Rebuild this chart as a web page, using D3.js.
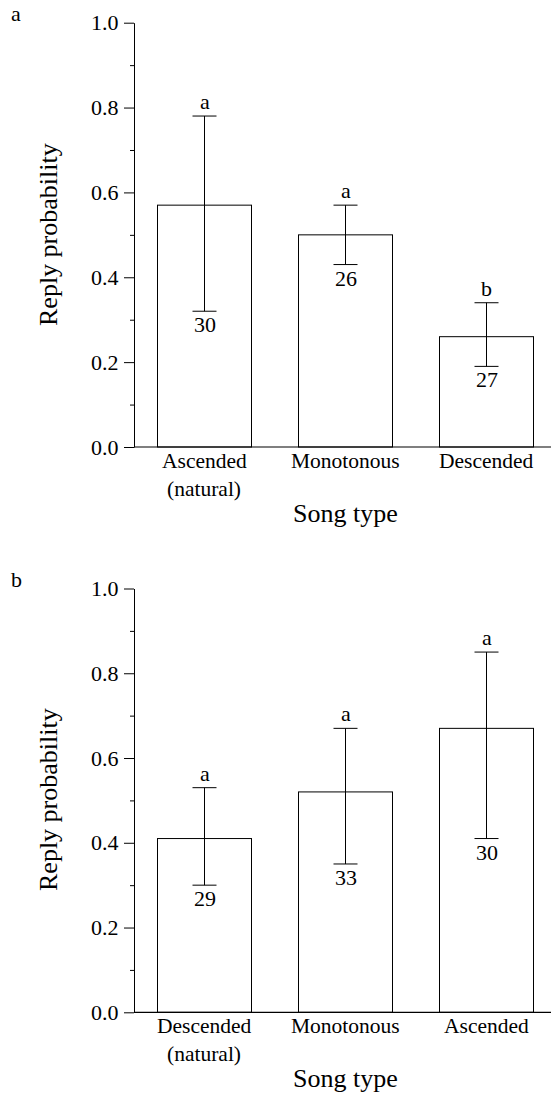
<!DOCTYPE html>
<html>
<head>
<meta charset="utf-8">
<script src="https://cdn.jsdelivr.net/npm/d3@7"></script>
<style>
    body { margin: 0; background: #fff; }
    svg { display: block; }
</style>
</head>
<body>
<div id="chart"></div>
<script>
// Panel a
var categoriesA = [["Ascended", "(natural)"], ["Monotonous"], ["Descended"]];
var valuesA = [0.57, 0.50, 0.26];
var upperA = [0.78, 0.57, 0.34];
var lowerA = [0.32, 0.43, 0.19];
var lettersA = ["a", "a", "b"];
var samplesA = ["30", "26", "27"];

// Panel b
var categoriesB = [["Descended", "(natural)"], ["Monotonous"], ["Ascended"]];
var valuesB = [0.41, 0.52, 0.67];
var upperB = [0.53, 0.67, 0.85];
var lowerB = [0.30, 0.35, 0.41];
var lettersB = ["a", "a", "a"];
var samplesB = ["29", "33", "30"];

var majorTicks = [0, 0.2, 0.4, 0.6, 0.8, 1.0];
var minorTicks = [0.1, 0.3, 0.5, 0.7, 0.9];

var width = 551,
    height = 1094;

var serif = 'Liberation Serif';

var svg = d3.select('#chart').append('svg')
    .attr('width', width)
    .attr('height', height);

// text in the figure font, left anchored; centred by measuring it
function label(g, size, str, x, y)
{
    var t = g.append('text')
        .attr('fill', '#000')
        .style('font-family', serif)
        .style('font-size', size + 'px')
        .attr('y', y)
        .text(str);
    var w = t.node().getComputedTextLength();
    t.attr('x', Math.round(x - w / 2));
    return t;
}

// draw one panel, top and bottom are the pixel rows of 1.0 and 0.0
function draw_panel(panel)
{
    var g = svg.append('g');
    var left = 134;

    var x = d3.scaleBand()
        .domain(d3.range(panel.values.length))
        .range([left, left + 423])
        .paddingInner(1 / 3)
        .paddingOuter(1 / 6);

    var y = d3.scaleLinear()
        .domain([0, 1])
        .range([panel.bottom, panel.top]);

    // panel letter
    g.append('text')
        .attr('x', 11)
        .attr('y', panel.top - 2)
        .attr('fill', '#000')
        .style('font-family', serif)
        .style('font-size', '22px')
        .text(panel.name);

    // y axis with major ticks
    var yAxis = d3.axisLeft(y)
        .tickValues(majorTicks)
        .tickFormat(d3.format('.1f'))
        .tickSize(10)
        .tickSizeOuter(0)
        .tickPadding(6);

    var ya = g.append('g')
        .attr('transform', 'translate(' + left + ',0)')
        .call(yAxis);
    ya.selectAll('line, path').attr('stroke', '#000');
    // re-anchor tick labels at their start so they keep the serif face
    ya.selectAll('.tick text')
        .style('font-family', serif)
        .style('font-size', '22px')
        .attr('fill', '#000')
        .attr('text-anchor', 'start')
        .each(function() {
            var w = this.getComputedTextLength();
            d3.select(this).attr('x', Math.round(-16 - w));
        });

    // minor ticks
    var yMinor = d3.axisLeft(y)
        .tickValues(minorTicks)
        .tickFormat('')
        .tickSize(4)
        .tickSizeOuter(0);
    var ym = g.append('g')
        .attr('transform', 'translate(' + left + ',0)')
        .call(yMinor);
    ym.select('.domain').remove();
    ym.selectAll('line').attr('stroke', '#000');

    // bars
    g.selectAll('rect.bar')
        .data(panel.values)
        .enter()
        .append('rect')
        .attr('class', 'bar')
        .attr('x', function(d, i) { return x(i); })
        .attr('y', function(d) { return y(d); })
        .attr('width', x.bandwidth())
        .attr('height', function(d) { return y(0) - y(d); })
        .attr('fill', '#fff')
        .attr('stroke', '#000')
        .attr('stroke-width', 1);

    // x axis line over the bar bottoms
    g.append('line')
        .attr('x1', left)
        .attr('x2', width)
        .attr('y1', y(0))
        .attr('y2', y(0))
        .attr('stroke', '#000')
        .attr('stroke-width', 1.2);

    // error bars
    var cap = 12;
    panel.values.forEach(function(d, i) {
        var cx = x(i) + x.bandwidth() / 2;
        g.append('line')
            .attr('x1', cx).attr('x2', cx)
            .attr('y1', y(panel.upper[i])).attr('y2', y(panel.lower[i]))
            .attr('stroke', '#000');
        [panel.upper[i], panel.lower[i]].forEach(function(v) {
            g.append('line')
                .attr('x1', cx - cap).attr('x2', cx + cap)
                .attr('y1', y(v)).attr('y2', y(v))
                .attr('stroke', '#000');
        });
        // significance letter and sample size
        label(g, 22, panel.letters[i], cx, y(panel.upper[i]) - 7);
        label(g, 22, panel.samples[i], cx, y(panel.lower[i]) + 21);
        // category label
        panel.categories[i].forEach(function(line, k) {
            label(g, 21.5, line, cx, y(0) + 21 + k * 27.5);
        });
    });

    // axis titles
    var title = g.append('g')
        .attr('transform', 'translate(57,' + Math.round((panel.top + panel.bottom) / 2) + ')rotate(-90)');
    label(title, 26, 'Reply probability', 0, 0);

    label(g, 26, 'Song type', left + 423 / 2, y(0) + 74.5);
}

draw_panel({
    name: 'a', top: 22.7, bottom: 447,
    categories: categoriesA, values: valuesA, upper: upperA, lower: lowerA,
    letters: lettersA, samples: samplesA
});

draw_panel({
    name: 'b', top: 588.5, bottom: 1012.3,
    categories: categoriesB, values: valuesB, upper: upperB, lower: lowerB,
    letters: lettersB, samples: samplesB
});
</script>
</body>
</html>
